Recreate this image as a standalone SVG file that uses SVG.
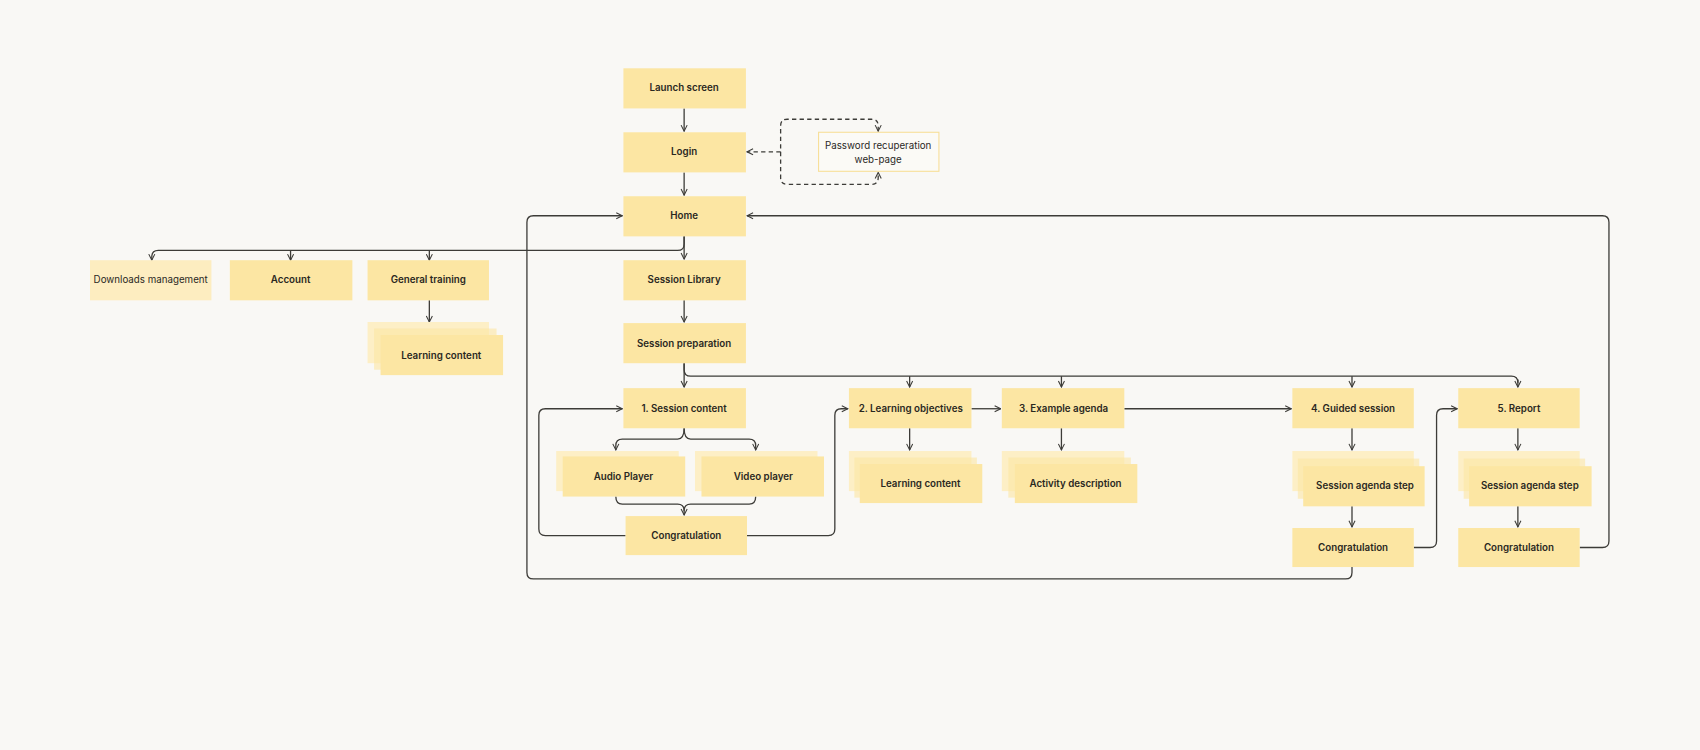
<svg xmlns="http://www.w3.org/2000/svg" width="1700" height="750" viewBox="0 0 1700 750">
<defs>
<style>
.b{fill:#fce6a3}
.bk{fill:#fdefc6}
.l{fill:#fdedc0}
.t{font-family:Inter,"Liberation Sans",sans-serif;font-size:9px;font-weight:600;fill:#2a281f;text-anchor:middle}
.tn{font-family:Inter,"Liberation Sans",sans-serif;font-size:9px;font-weight:400;fill:#2a281f;text-anchor:middle}
.c{fill:none;stroke:#3d3c38;stroke-width:1.2;marker-end:url(#a)}
.cn{fill:none;stroke:#3d3c38;stroke-width:1.2}
.d{fill:none;stroke:#3d3c38;stroke-width:1.2;stroke-dasharray:4 3}
</style>
<marker id="a" viewBox="0 0 10 10" refX="9" refY="5" markerWidth="7" markerHeight="7" orient="auto-start-reverse" markerUnits="userSpaceOnUse"><path d="M1,1 L9,5 L1,9" fill="none" stroke="#3d3c38" stroke-width="1.4"/></marker>
</defs>
<rect width="1700" height="750" fill="#f9f8f5"/>
<g transform="scale(1.0842)">
<g id="connectors">
<path class="c" d="M631,100 V121"/>
<path class="c" d="M631,159 V180"/>
<path class="c" d="M631,218 V239"/>
<path class="c" d="M631,218 V225 Q631,231 625,231 H146 Q140,231 140,237 V240"/>
<path class="c" d="M268,231 Q268,231 268,240"/>
<path class="c" d="M396,231 V240"/>
<path class="c" d="M396,277 V297"/>
<path class="c" d="M631,277 V297"/>
<path class="c" d="M631,335 V357"/>
<path class="cn" d="M631,335 V341 Q631,347 637,347 H1394 Q1400,347 1400,353"/>
<path class="c" d="M839,347 V357"/>
<path class="c" d="M979,347 V357"/>
<path class="c" d="M1247,347 V357"/>
<path class="c" d="M1400,350 V357"/>
<path class="c" d="M896,377 H923"/>
<path class="c" d="M1037,377 H1191"/>
<path class="c" d="M839,395 V415"/>
<path class="c" d="M979,395 V415"/>
<path class="c" d="M1247,395 V415"/>
<path class="c" d="M1400,395 V415"/>
<path class="c" d="M1247,467 V486"/>
<path class="c" d="M1400,467 V486"/>
<path class="c" d="M631,395 Q631,405 625,405 H574 Q568,405 568,411 V415"/>
<path class="c" d="M631,395 Q631,405 637,405 H691 Q697,405 697,411 V415"/>
<path class="c" d="M568,458 Q568,465 574,465 H625 Q631,465 631,471 V475"/>
<path class="cn" d="M697,458 Q697,465 691,465 H637 Q631,465 631,471"/>
<path class="c" d="M577,494 H503 Q497,494 497,488 V383 Q497,377 503,377 H574"/>
<path class="c" d="M689,494 H764 Q770,494 770,488 V383 Q770,377 776,377 H782"/>
<path class="c" d="M1304,505 H1319 Q1325,505 1325,499 V383 Q1325,377 1331,377 H1344"/>
<path class="c" d="M1457,505 H1478 Q1484,505 1484,499 V205 Q1484,199 1478,199 H689"/>
<path class="c" d="M1247,523 V528 Q1247,534 1241,534 H492 Q486,534 486,528 V205 Q486,199 492,199 H574"/>
<path class="d" d="M720,140 H689" marker-end="url(#a)"/>
<path class="d" d="M810,121 V116 Q810,110 804,110 H726 Q720,110 720,116 V164 Q720,170 726,170 H804 Q810,170 810,164 V159" marker-start="url(#a)" marker-end="url(#a)"/>
</g>
<g id="launch"><rect class="b" x="575" y="63" width="113" height="37"/><text class="t" x="631" y="84">Launch screen</text></g>
<g id="login"><rect class="b" x="575" y="122" width="113" height="37"/><text class="t" x="631" y="143">Login</text></g>
<g id="password"><rect x="755" y="122" width="111" height="36" fill="#fbfaf6" stroke="#f7df98" stroke-width="1"/><text class="tn" x="810" y="137">Password recuperation</text><text class="tn" x="810" y="150">web-page</text></g>
<g id="home"><rect class="b" x="575" y="181" width="113" height="37"/><text class="t" x="631" y="202">Home</text></g>
<g id="downloads"><rect class="l" x="83" y="240" width="112" height="37"/><text class="tn" x="139" y="261">Downloads management</text></g>
<g id="account"><rect class="b" x="212" y="240" width="113" height="37"/><text class="t" x="268" y="261">Account</text></g>
<g id="general"><rect class="b" x="339" y="240" width="112" height="37"/><text class="t" x="395" y="261">General training</text></g>
<g id="learning1"><rect class="bk" x="339" y="297" width="112" height="38"/><rect class="b" x="345" y="303" width="113" height="38" opacity="0.6"/><rect class="b" x="351" y="309" width="113" height="37"/><text class="t" x="407" y="331">Learning content</text></g>
<g id="library"><rect class="b" x="575" y="240" width="113" height="37"/><text class="t" x="631" y="261">Session Library</text></g>
<g id="prep"><rect class="b" x="575" y="298" width="113" height="37"/><text class="t" x="631" y="320">Session preparation</text></g>
<g id="content"><rect class="b" x="575" y="358" width="113" height="37"/><text class="t" x="631" y="380">1.  Session content</text></g>
<g id="audio"><rect class="bk" x="513" y="416" width="113" height="37"/><rect class="b" x="519" y="421" width="113" height="37"/><text class="t" x="575" y="443">Audio Player</text></g>
<g id="video"><rect class="bk" x="641" y="416" width="113" height="37"/><rect class="b" x="647" y="421" width="113" height="37"/><text class="t" x="704" y="443">Video player</text></g>
<g id="congrat1"><rect class="b" x="577" y="476" width="112" height="36"/><text class="t" x="633" y="497">Congratulation</text></g>
<g id="objectives"><rect class="b" x="783" y="358" width="113" height="37"/><text class="t" x="840" y="380">2.  Learning objectives</text></g>
<g id="learning2"><rect class="bk" x="783" y="416" width="113" height="37"/><rect class="b" x="788" y="422" width="113" height="37" opacity="0.6"/><rect class="b" x="793" y="428" width="113" height="36"/><text class="t" x="849" y="449">Learning content</text></g>
<g id="agenda"><rect class="b" x="924" y="358" width="113" height="37"/><text class="t" x="981" y="380">3.  Example agenda</text></g>
<g id="activity"><rect class="bk" x="924" y="416" width="113" height="37"/><rect class="b" x="930" y="422" width="113" height="37" opacity="0.6"/><rect class="b" x="936" y="428" width="113" height="36"/><text class="t" x="992" y="449">Activity description</text></g>
<g id="guided"><rect class="b" x="1192" y="358" width="112" height="37"/><text class="t" x="1248" y="380">4.  Guided session</text></g>
<g id="step4"><rect class="bk" x="1192" y="416" width="112" height="37"/><rect class="b" x="1197" y="423" width="112" height="37" opacity="0.6"/><rect class="b" x="1202" y="430" width="112" height="37"/><text class="t" x="1259" y="451">Session agenda step</text></g>
<g id="congrat4"><rect class="b" x="1192" y="487" width="112" height="36"/><text class="t" x="1248" y="508">Congratulation</text></g>
<g id="report"><rect class="b" x="1345" y="358" width="112" height="37"/><text class="t" x="1401" y="380">5.  Report</text></g>
<g id="step5"><rect class="bk" x="1345" y="416" width="112" height="37"/><rect class="b" x="1350" y="423" width="112" height="37" opacity="0.6"/><rect class="b" x="1355" y="430" width="113" height="37"/><text class="t" x="1411" y="451">Session agenda step</text></g>
<g id="congrat5"><rect class="b" x="1345" y="487" width="112" height="36"/><text class="t" x="1401" y="508">Congratulation</text></g>
</g>
</svg>
